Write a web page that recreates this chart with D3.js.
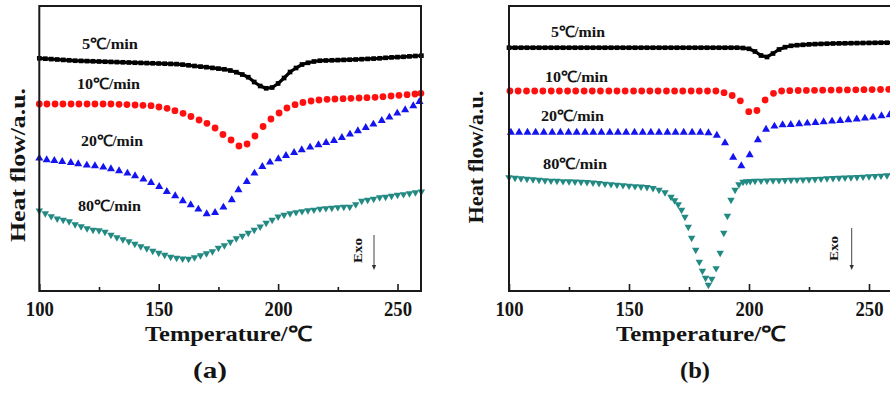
<!DOCTYPE html>
<html><head><meta charset="utf-8">
<script src="https://cdn.jsdelivr.net/npm/d3@7/dist/d3.min.js"></script>
<style>
body{margin:0;background:#fff}
svg{display:block}
text{font-family:"Times New Roman","Liberation Serif",Tinos,serif;font-weight:bold;fill:#141414}
</style>
</head><body>
<svg id="c" width="890" height="395"></svg>
<script>
// ---------- data ----------
const majorTicks = [100, 150, 200, 250];
const minorTicks = [125, 175, 225];
const rateLabels = ["5℃/min", "10℃/min", "20℃/min", "80℃/min"];
const xTitle = "Temperature/℃";
const yTitle = "Heat flow/a.u.";
const panelTags = ["(a)", "(b)"];

const tempStep = [100,102.5,105,107.5,110,112.5,115,117.5,120,122.5,125,127.5,130,132.5,135,137.5,140,142.5,145,147.5,150,152.5,155,157.5,160,162.5,165,167.5,170,172.5,175,177.5,180,182.5,185,187.5,190,192.5,195,197.5,200,202.5,205,207.5,210,212.5,215,217.5,220,222.5,225,227.5,230,232.5,235,237.5,240,242.5,245,247.5,250,252.5,255,257.5,260];

// Panel (a)
const a5Temp = tempStep;
const a5Val = [23.27,23.23,23.19,23.15,23.11,23.07,23.03,23.01,22.99,22.97,22.95,22.93,22.91,22.89,22.87,22.85,22.83,22.81,22.79,22.77,22.75,22.73,22.71,22.69,22.64,22.57,22.5,22.44,22.38,22.31,22.24,22.17,22.05,21.88,21.65,21.38,20.9,20.5,20.27,20.35,20.75,21.3,21.9,22.3,22.65,22.82,22.95,23.03,23.05,23.07,23.09,23.11,23.13,23.15,23.18,23.21,23.24,23.27,23.32,23.36,23.39,23.42,23.46,23.5,23.53];

const a10Temp = [100,103.2,106.6,109.9,113.3,116.6,120,123.3,126.7,130,133.4,136.7,140.1,143.4,146.8,150.1,153.5,156.8,160.2,163.5,166.9,170.2,173.6,176.9,180.3,183.6,187,190.3,193.7,197,200.4,203.7,207.1,210.4,213.8,217.1,220.5,223.8,227.2,230.5,233.9,237.2,240.6,243.9,247.3,250.6,254,257.3,259.8];
const a10Val = [18.7,18.7,18.7,18.7,18.7,18.7,18.7,18.7,18.7,18.7,18.67,18.64,18.6,18.57,18.53,18.4,18.27,18.03,17.77,17.45,17.1,16.77,16.3,15.65,15.1,14.5,14.7,15.5,16.45,17.2,17.8,18.3,18.63,18.85,19.0,19.1,19.17,19.2,19.23,19.27,19.3,19.33,19.37,19.43,19.5,19.57,19.63,19.7,19.77];

const a20Temp = [100,103.1,106.3,109.6,113.2,116.3,119.9,123.3,126.8,130,133.4,136.9,140.1,143.6,146.8,150.2,153.4,156.9,160.1,163.4,166.6,170.1,173.6,177.1,180.6,183.4,186.9,190.1,193.4,196.6,200.1,203.3,206.7,209.9,213.4,216.9,220.1,223.4,226.7,230.1,233.4,236.7,239.9,243.4,246.6,249.9,253.2,256.6,259.2];
const a20Val = [13.27,13.1,13.03,12.93,12.83,12.7,12.57,12.5,12.37,12.2,12.0,11.77,11.5,11.17,10.83,10.43,9.93,9.5,9.0,8.6,8.17,7.7,7.83,8.37,9.1,10.1,10.93,11.77,12.43,12.87,13.2,13.53,13.83,14.1,14.37,14.6,14.83,15.03,15.33,15.67,16.0,16.33,16.67,17.03,17.37,17.77,18.1,18.5,18.93];

const a80Temp = tempStep;
const a80Val = [8.03,7.75,7.47,7.24,7.1,6.95,6.65,6.45,6.25,6.1,6.05,5.9,5.6,5.35,5.15,4.95,4.7,4.45,4.25,4.0,3.8,3.6,3.4,3.3,3.23,3.2,3.35,3.55,3.75,3.95,4.3,4.55,4.9,5.25,5.5,5.8,6.1,6.43,6.8,7.1,7.43,7.6,7.75,7.87,7.97,8.05,8.12,8.22,8.27,8.3,8.37,8.4,8.4,8.65,9.0,9.1,9.2,9.35,9.4,9.5,9.6,9.67,9.75,9.85,9.93];

// Panel (b)
const b5Temp = tempStep;
const b5Val = [24.33,24.33,24.33,24.33,24.33,24.33,24.33,24.33,24.33,24.33,24.33,24.33,24.33,24.33,24.33,24.33,24.33,24.33,24.33,24.33,24.33,24.33,24.33,24.33,24.33,24.33,24.33,24.33,24.33,24.33,24.33,24.33,24.33,24.33,24.33,24.33,24.33,24.33,24.33,24.3,24.22,23.95,23.55,23.4,23.75,24.15,24.38,24.52,24.58,24.62,24.66,24.69,24.71,24.73,24.75,24.76,24.77,24.78,24.79,24.8,24.81,24.82,24.83,24.83,24.84];

const b10Temp = [100.4,103.8,107.3,110.7,114.1,117.6,121.0,124.4,127.8,131.3,134.7,138.1,141.6,145.0,148.4,151.9,155.3,158.7,162.1,165.6,169.0,172.4,175.9,179.3,182.7,186.2,189.6,193.0,196.4,199.9,203.3,206.7,210.2,213.6,217.0,220.5,223.9,227.3,230.7,234.2,237.6,241.0,244.5,247.9,251.3,254.8,258.2];
const b10Val = [20.0,20.0,20.0,20.0,20.0,20.0,20.0,20.0,20.0,20.0,20.0,20.0,20.0,20.0,20.0,20.0,20.0,20.0,20.0,20.0,20.0,20.0,20.0,20.0,20.0,20.0,19.83,19.55,19.02,17.93,18.05,19.1,19.77,20.0,20.03,20.05,20.06,20.07,20.08,20.09,20.1,20.11,20.12,20.13,20.14,20.15,20.17];

const b20Temp = [100.8,104.2,107.7,111.1,114.5,118.0,121.4,124.8,128.2,131.7,135.1,138.5,142.0,145.4,148.8,152.3,155.7,159.1,162.5,166.0,169.4,172.8,176.3,179.7,183.1,186.6,190.0,193.4,196.8,200.3,203.7,207.1,210.6,214.0,217.4,220.9,224.3,227.7,231.1,234.6,238.0,241.4,244.9,248.3,251.7,255.2,258.6];
const b20Val = [15.85,15.85,15.85,15.85,15.85,15.85,15.85,15.85,15.85,15.85,15.85,15.85,15.85,15.85,15.85,15.85,15.85,15.85,15.85,15.85,15.85,15.85,15.85,15.85,15.8,15.55,14.8,13.35,12.5,13.6,15.1,16.15,16.47,16.6,16.63,16.7,16.77,16.84,16.9,16.97,17.04,17.1,17.18,17.27,17.37,17.5,17.6];

const b80Temp = [100,102.5,105,107.5,110,112.5,115,117.5,120,122.5,125,127.5,130,132.5,135,137.5,140,142.5,145,147.5,150,152.5,155,157.5,160,162.5,165,167.5,169,170.5,171.9,173.3,174.7,176.1,177.8,179.3,180.6,181.9,183.1,184.5,186.3,188,189.5,191,192.5,194.2,195.8,197.5,199,200.5,202.5,205,207.5,210,212.5,215,217.5,220,222.5,225,227.5,230,232.5,235,237.5,240,242.5,245,247.5,250,252.5,255,257.5,260];
const b80Val = [11.35,11.3,11.25,11.2,11.15,11.1,11.05,11.02,11.0,10.97,10.95,10.93,10.91,10.88,10.84,10.78,10.72,10.67,10.62,10.57,10.52,10.47,10.43,10.38,10.28,10.1,9.85,9.4,9.05,8.65,8.1,7.4,6.4,5.3,4.1,2.9,2.0,1.3,0.6,1.2,2.27,3.8,5.8,7.5,9.1,10.1,10.65,10.9,10.95,10.98,11.0,11.02,11.04,11.05,11.07,11.08,11.1,11.12,11.14,11.16,11.19,11.22,11.25,11.28,11.3,11.33,11.36,11.39,11.42,11.45,11.48,11.52,11.56,11.6];

// ---------- drawing ----------
const svg = d3.select("#c");
const zip = (t, v) => t.map((d, i) => ({t: d, v: v[i]}));

const styles = [
  {color: "#000000", symbol: d3.symbolSquare, size: 22, rot: 0, line: 3.2},
  {color: "#ff1010", symbol: d3.symbolCircle, size: 36, rot: 0, line: 0},
  {color: "#1414f0", symbol: d3.symbolTriangle, size: 28, rot: 0, line: 0},
  {color: "#228a83", symbol: d3.symbolTriangle, size: 24, rot: 180, line: 0}
];

const panels = [
  {L: 39.3, R: 421.4, frameR: 421, series: [zip(a5Temp,a5Val), zip(a10Temp,a10Val), zip(a20Temp,a20Val), zip(a80Temp,a80Val)],
   labelPos: [[82,49,56],[77,89,63],[81,146,62],[78,211,63]],
   yLab: [25,165,154,22], xLab: [228.5,167], tag: [210,34], exo: [362,250.5,374,235,270]},
  {L: 509, R: 893, frameR: 893, series: [zip(b5Temp,b5Val), zip(b10Temp,b10Val), zip(b20Temp,b20Val), zip(b80Temp,b80Val)],
   labelPos: [[551,36.5,54],[545,81.5,63],[541,120.5,63],[543,168.5,64]],
   yLab: [483,157,133,20], xLab: [701,170], tag: [695,30], exo: [838,248.5,851.7,228,270]}
];

const TOP = 6, BOT = 291;

panels.forEach((p, pi) => {
  const x = d3.scaleLinear().domain([100, 260]).range([p.L, p.R]);
  const y = d3.scaleLinear().domain([0, 28.5]).range([BOT, TOP]);
  const g = svg.append("g");

  p.series.forEach((data, si) => {
    const st = styles[si];
    if (st.line) {
      g.append("path").datum(data)
        .attr("d", d3.line().x(d => x(d.t)).y(d => y(d.v)))
        .attr("fill", "none").attr("stroke", st.color).attr("stroke-width", st.line);
    }
    g.append("g").selectAll("path").data(data).join("path")
      .attr("d", d3.symbol().type(st.symbol).size(st.size))
      .attr("transform", d => `translate(${x(d.t)},${y(d.v)}) rotate(${st.rot})`)
      .attr("fill", st.color);
  });

  g.append("rect").attr("x", p.L).attr("y", TOP).attr("width", p.frameR - p.L).attr("height", BOT - TOP)
    .attr("fill", "none").attr("stroke", "#1a1a1a").attr("stroke-width", 2);

  const ax = g.append("g").attr("transform", `translate(0,${BOT})`)
    .call(d3.axisBottom(x).tickValues(majorTicks).tickSize(-7).tickPadding(10).tickFormat(d3.format("d")));
  ax.select(".domain").remove();
  ax.selectAll("line").attr("stroke", "#1a1a1a").attr("stroke-width", 1.6);
  ax.selectAll("text").attr("font-size", 21).attr("font-family", null).attr("fill", "#141414")
    .attr("textLength", 28).attr("lengthAdjust", "spacingAndGlyphs");
  const mx = g.append("g").attr("transform", `translate(0,${BOT})`)
    .call(d3.axisBottom(x).tickValues(minorTicks).tickSize(-4).tickFormat(""));
  mx.select(".domain").remove();
  mx.selectAll("line").attr("stroke", "#1a1a1a").attr("stroke-width", 1.6);

  rateLabels.forEach((t, i) => {
    const lp = p.labelPos[i];
    g.append("text").attr("x", lp[0]).attr("y", lp[1]).attr("font-size", 15.5)
      .attr("textLength", lp[2]).attr("lengthAdjust", "spacingAndGlyphs").text(t);
  });

  g.append("text").attr("transform", `translate(${p.yLab[0]},${p.yLab[1]}) rotate(-90)`)
    .attr("text-anchor", "middle").attr("font-size", p.yLab[3])
    .attr("textLength", p.yLab[2]).attr("lengthAdjust", "spacingAndGlyphs").text(yTitle);
  g.append("text").attr("x", p.xLab[0]).attr("y", 340.5).attr("text-anchor", "middle").attr("font-size", 21)
    .attr("textLength", p.xLab[1]).attr("lengthAdjust", "spacingAndGlyphs").text(xTitle);
  g.append("text").attr("x", p.tag[0]).attr("y", 378).attr("text-anchor", "middle").attr("font-size", 23)
    .attr("textLength", p.tag[1]).attr("lengthAdjust", "spacingAndGlyphs").text(panelTags[pi]);

  const e = p.exo;
  g.append("text").attr("transform", `translate(${e[0]},${e[1]}) rotate(-90)`)
    .attr("text-anchor", "middle").attr("font-size", 13)
    .attr("textLength", 25).attr("lengthAdjust", "spacingAndGlyphs").text("Exo");
  g.append("line").attr("x1", e[2]).attr("x2", e[2]).attr("y1", e[3]).attr("y2", e[4] - 4)
    .attr("stroke", "#444").attr("stroke-width", 1);
  g.append("path").attr("d", `M${e[2]-2.2},${e[4]-5}L${e[2]+2.2},${e[4]-5}L${e[2]},${e[4]}Z`).attr("fill", "#333");
});
</script>
</body></html>
